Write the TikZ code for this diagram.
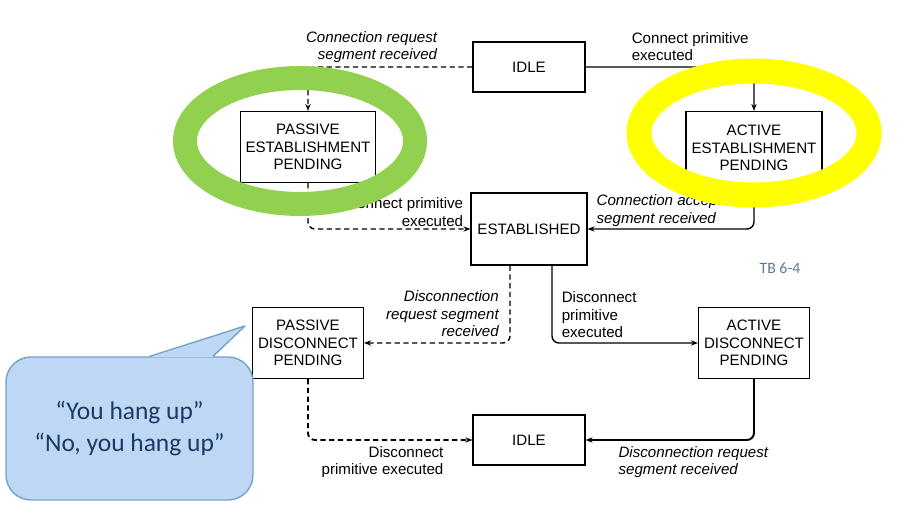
\documentclass[tikz,border=0pt]{standalone}
\usepackage{fontspec}
\setmainfont{Liberation Sans}
\newfontfamily\calibri{Carlito}
\usepackage[HTML]{xcolor}
\usetikzlibrary{positioning, arrows.meta}

\definecolor{ringgreen}{HTML}{92D050}
\definecolor{ringyellow}{HTML}{FFFF00}
\definecolor{bubblefill}{HTML}{BDD7F4}
\definecolor{bubbleedge}{HTML}{74A3C6}
\definecolor{bubbletext}{HTML}{1F3864}
\definecolor{tbgray}{HTML}{5A7A96}

\begin{document}
\begin{tikzpicture}[
    on grid,
    >={Stealth[length=4pt,width=3pt]},
    every node/.style={font=\fontsize{8.6}{10}\selectfont},
    state/.style={draw, line width=0.6pt, align=center, inner sep=1pt},
    solidline/.style={->, line width=0.8pt, rounded corners=4pt},
    dashline/.style={solidline, dash pattern=on 3pt off 2pt},
    lbl/.style={inner sep=1pt, align=left},
    ital/.style={font=\fontsize{8.6}{10}\selectfont\itshape},
    bubble/.style={draw=bubbleedge, fill=bubblefill, line width=0.8pt,
        rounded corners=0.5cm, minimum width=4.94cm, minimum height=2.86cm,
        align=center, text=bubbletext, font=\calibri\fontsize{14.5}{18.3}\selectfont}
]
    \useasboundingbox (-10.58,1.34) rectangle (7.42,-8.92);

    % Define nodes
    \node[state, minimum width=2.24cm, minimum height=1cm] (idle1) {IDLE};
    \node[state, minimum width=2.7cm, minimum height=1.42cm] (pep) [below left=1.6cm and 4.42cm of idle1] {PASSIVE\\ESTABLISHMENT\\PENDING};
    \node[state, minimum width=2.72cm, minimum height=1.46cm] (aep) [below right=1.62cm and 4.5cm of idle1] {ACTIVE\\ESTABLISHMENT\\PENDING};
    \node[state, minimum width=2.32cm, minimum height=1.44cm] (est) [below=3.24cm of idle1] {ESTABLISHED};
    \node[state, minimum width=2.22cm, minimum height=1.42cm] (pdp) [below=3.92cm of pep] {PASSIVE\\DISCONNECT\\PENDING};
    \node[state, minimum width=2.22cm, minimum height=1.42cm] (adp) [below=3.9cm of aep] {ACTIVE\\DISCONNECT\\PENDING};
    \node[state, minimum width=2.24cm, minimum height=1cm] (idle2) [below=4.22cm of est] {IDLE};

    % Draw arrows
    \draw[dashline] (idle1.west) -| node[lbl, ital, align=right, anchor=south east, pos=0.1, yshift=1pt] (l1) {Connection request\\segment received} (pep.north);
    \draw[solidline] (idle1.east) -| node[lbl, anchor=south west, pos=0.13, yshift=2pt] (l2) {Connect primitive\\executed} (aep.north);
    \draw[dashline] (pep.south) |- node[lbl, align=right, anchor=south east, pos=0.985, yshift=0pt] (l3) {Connect primitive\\executed} (est.west);
    \draw[solidline] (aep.south) |- node[lbl, ital, anchor=south west, pos=0.98, yshift=0pt] (l4) {Connection accept\\segment received} (est.east);
    \draw[dashline] ([xshift=-0.38cm]est.south) |- node[lbl, ital, align=right, anchor=south east, pos=0.53, yshift=2pt] (l5) {Disconnection\\request segment\\received} (pdp.east);
    \draw[solidline] ([xshift=0.46cm]est.south) |- node[lbl, anchor=south west, pos=0.525, yshift=1.5pt] (l6) {Disconnect\\primitive\\executed} (adp.west);
    \draw[dashline, line width=1.1pt] (pdp.south) |- node[lbl, align=right, anchor=north east, pos=0.92, yshift=-2pt] (l7) {Disconnect\\primitive executed} (idle2.west);
    \draw[solidline, line width=1.1pt] (adp.south) |- node[lbl, ital, anchor=north west, pos=0.91, yshift=-2pt] (l8) {Disconnection request\\segment received} (idle2.east);

    % Speech bubble
    \node[bubble] (bubble) at (-7.99,-7.23) {“You hang up”\\“No, you hang up”};
    \coordinate (tip) at (-5.68,-5.18);
    \fill[bubblefill] ([xshift=0.41cm,yshift=-0.6pt]bubble.north) -- (tip) -- ([xshift=1.67cm,yshift=-0.6pt]bubble.north) -- cycle;
    \draw[bubbleedge, line width=0.8pt, line join=round] ([xshift=0.41cm]bubble.north) -- (tip) -- ([xshift=1.67cm]bubble.north);

    \node[font=\calibri\fontsize{9}{10}\selectfont, text=tbgray] (tb) at (5.02,-4.02) {TB 6-4};

    % Rings
    \draw[ringgreen, line width=0.48cm] (-4.58,-1.48) ellipse [x radius=2.3cm, y radius=1.26cm];
    \draw[ringyellow, line width=0.5cm] (4.5,-1.32) ellipse [x radius=2.3cm, y radius=1.24cm];
\end{tikzpicture}
\end{document}
